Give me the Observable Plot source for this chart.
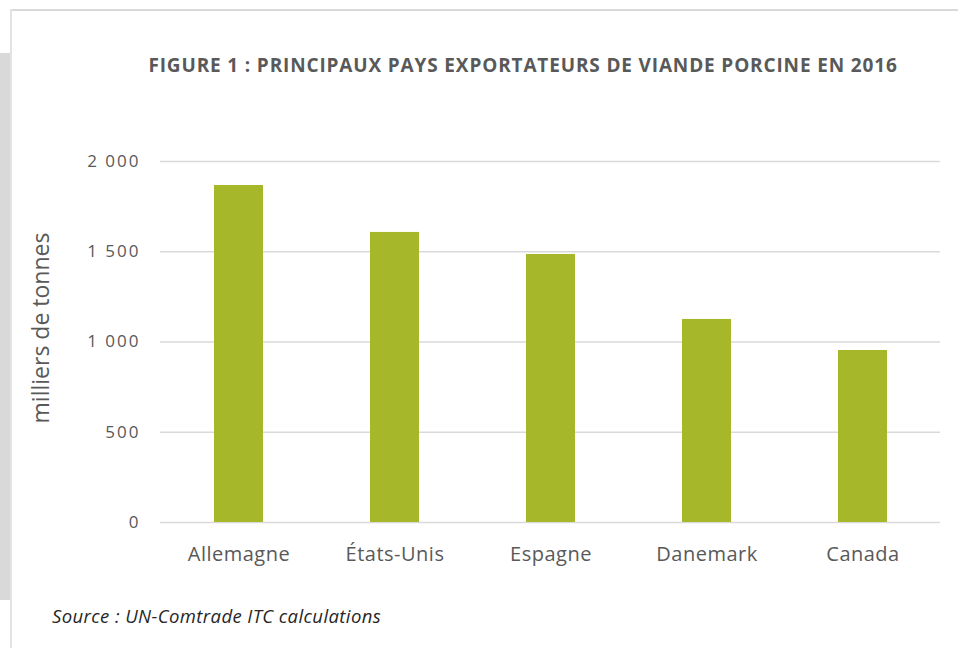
<!DOCTYPE html>
<html><head><meta charset="utf-8">
<script src="https://cdn.jsdelivr.net/npm/d3@7"></script>
<script src="https://cdn.jsdelivr.net/npm/@observablehq/plot@0.6"></script>
<style>
html,body{margin:0;padding:0;background:#fff;width:958px;height:648px;overflow:hidden;position:relative;font-family:"Open Sans",sans-serif;}
#frameTop{position:absolute;left:10px;top:9px;width:948px;height:2px;background:#d9d9d9;}
#frameLeft{position:absolute;left:10px;top:9px;width:2px;height:639px;background:#e3e3e3;}
#greyBlock{position:absolute;left:0;top:53px;width:10px;height:547px;background:#d9d9d9;}
#title{position:absolute;left:0;width:1046px;top:52px;text-align:center;font-weight:bold;font-size:19px;letter-spacing:0.85px;color:#595959;font-family:"Open Sans",sans-serif;white-space:nowrap;}
#caption{position:absolute;left:52px;top:603px;font-style:italic;font-size:18.5px;letter-spacing:0.4px;color:#262626;font-family:"Open Sans",sans-serif;white-space:nowrap;}
#ylabel{position:absolute;left:40px;top:328px;transform:translate(-50%,-50%) rotate(-90deg);font-size:23px;color:#595959;white-space:nowrap;font-family:"Open Sans",sans-serif;}
#chart{position:absolute;left:0;top:140px;}
#chart g[aria-label="y-axis tick label"] text{letter-spacing:2px;}
#chart g[aria-label="x-axis tick label"] text{letter-spacing:0.5px;}
</style></head>
<body>
<div id="frameTop"></div><div id="frameLeft"></div><div id="greyBlock"></div>
<div id="title">FIGURE 1 : PRINCIPAUX PAYS EXPORTATEURS DE VIANDE PORCINE EN 2016</div>
<div id="chart"></div>
<div id="ylabel">milliers de tonnes</div>
<div id="caption">Source : UN-Comtrade ITC calculations</div>
<script>
const pays = ["Allemagne", "États-Unis", "Espagne", "Danemark", "Canada"];
const exportations = [1867, 1607, 1485, 1125, 953];
const yTicks = [0, 500, 1000, 1500, 2000];

const data = pays.map((p, i) => ({pays: p, valeur: exportations[i]}));
const fmt = d3.formatLocale({decimal: ",", thousands: " ", grouping: [3], currency: ["", " €"]}).format(",d");

const chart = Plot.plot({
  width: 958,
  height: 430,
  marginTop: 21,
  marginBottom: 48,
  marginLeft: 160,
  marginRight: 18,
  style: {fontFamily: "'Open Sans', sans-serif", background: "transparent"},
  x: {domain: pays, paddingInner: 0.686, paddingOuter: 0.343, align: 0.5},
  y: {domain: [0, 2000]},
  marks: [
    Plot.gridY(yTicks, {stroke: "#d9d9d9", strokeOpacity: 1, strokeWidth: 1.5}),
    Plot.barY(data, {x: "pays", y: "valeur", fill: "#a6b82a"}),
    Plot.axisY(yTicks, {tickSize: 0, tickPadding: 20, tickFormat: fmt, fontSize: 17, color: "#595959", label: null}),
    Plot.axisX({tickSize: 0, tickPadding: 24, fontSize: 20, color: "#595959", label: null})
  ]
});
document.getElementById("chart").appendChild(chart);
</script>
</body></html>
